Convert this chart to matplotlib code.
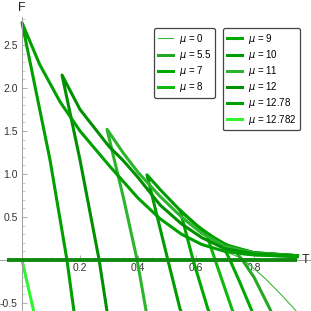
import matplotlib
matplotlib.use("Agg")
from matplotlib import pyplot as plt, ticker
import numpy as np

plt.rcParams['font.family'] = ['Liberation Sans', 'DejaVu Sans']
plt.rcParams['mathtext.fontset'] = 'dejavusans'

# chemical potentials, in legend order
mu_labels = ["0", "5.5", "7", "8", "9", "10", "11", "12", "12.78", "12.782"]

# each curve: upper branch (right end -> cusp) followed by the steep branch
T_mu0 = [0.70, 0.75, 0.79, 0.84, 0.89, 0.934, 0.955]
F_mu0 = [0.10, 0.03, -0.07, -0.22, -0.39, -0.55, -0.63]

T_mu55 = [0.95, 0.80, 0.74, 0.76, 0.80, 0.855, 0.866]
F_mu55 = [0.04, 0.06, 0.08, 0.0, -0.20, -0.57, -0.65]

T_mu7 = [0.95, 0.80, 0.74, 0.695, 0.717, 0.75, 0.79, 0.80]
F_mu7 = [0.045, 0.07, 0.10, 0.15, 0.0, -0.25, -0.57, -0.65]

T_mu8 = [0.95, 0.80, 0.74, 0.68, 0.638, 0.666, 0.724, 0.734]
F_mu8 = [0.05, 0.08, 0.12, 0.19, 0.28, 0.0, -0.57, -0.65]

T_mu9 = [0.95, 0.80, 0.72, 0.66, 0.60, 0.545, 0.59, 0.641, 0.652]
F_mu9 = [0.05, 0.085, 0.15, 0.26, 0.41, 0.58, 0.0, -0.57, -0.65]

T_mu10 = [0.95, 0.80, 0.70, 0.62, 0.55, 0.476, 0.431, 0.503, 0.545, 0.555]
F_mu10 = [0.05, 0.085, 0.18, 0.35, 0.56, 0.82, 0.99, 0.0, -0.57, -0.65]

T_mu11 = [0.95, 0.80, 0.70, 0.62, 0.55, 0.476, 0.40, 0.35, 0.293, 0.35, 0.397, 0.428, 0.433]
F_mu11 = [0.05, 0.08, 0.16, 0.31, 0.50, 0.74, 1.02, 1.24, 1.52, 0.72, 0.0, -0.593, -0.65]

T_mu12 = [0.95, 0.80, 0.70, 0.62, 0.55, 0.476, 0.40, 0.348, 0.30, 0.20, 0.138, 0.20, 0.266, 0.293, 0.30]
F_mu12 = [0.045, 0.07, 0.13, 0.26, 0.42, 0.64, 0.96, 1.16, 1.32, 1.75, 2.15, 1.163, 0.0, -0.593, -0.65]

T_mu1278 = [0.95, 0.80, 0.70, 0.62, 0.55, 0.476, 0.40, 0.30, 0.20, 0.131, 0.06, 0.0, 0.0966, 0.155, 0.179, 0.185]
F_mu1278 = [0.04, 0.06, 0.10, 0.18, 0.30, 0.48, 0.72, 1.10, 1.50, 1.84, 2.28, 2.76, 1.163, 0.0, -0.593, -0.65]

T_mu12782 = [0.0, 0.044]
F_mu12782 = [0.0, -0.65]

# thermal background, F = 0
T_flat = [-0.052, 0.948]
F_flat = [0.0, 0.0]

curves = [
    (T_mu0, F_mu0, "#3cb43c", 0.8),
    (T_mu55, F_mu55, "#22a822", 2.2),
    (T_mu7, F_mu7, "#00aa00", 2.2),
    (T_mu8, F_mu8, "#10b810", 2.2),
    (T_mu9, F_mu9, "#00a800", 2.2),
    (T_mu10, F_mu10, "#009c00", 2.2),
    (T_mu11, F_mu11, "#2cb42c", 2.2),
    (T_mu12, F_mu12, "#009000", 2.2),
    (T_mu1278, F_mu1278, "#00a000", 2.2),
    (T_mu12782, F_mu12782, "#2ef52e", 2.2),
]

fig = plt.figure(figsize=(3.11, 3.11), dpi=100)
ax = fig.add_axes([0, 0, 1, 1])
ax.set_xlim(-0.0759, 0.9966)
ax.set_ylim(-0.593, 3.023)

ax.plot(T_flat, F_flat, color="#0f8a0f", lw=2.8, solid_capstyle='butt', zorder=3)

handles = []
for (T, F, col, lw), lab in zip(curves, mu_labels):
    line, = ax.plot(T, F, color=col, lw=lw, solid_joinstyle='round',
                    label=r"$\mu$ = " + lab, zorder=2)
    handles.append(line)

# Mathematica style axes through the origin
for side in ['top', 'right']:
    ax.spines[side].set_visible(False)
ax.spines['left'].set_position(('data', 0))
ax.spines['bottom'].set_position(('data', 0))
ax.spines['left'].set_bounds(-0.593, 2.83)
for side in ['left', 'bottom']:
    ax.spines[side].set_color('#a0a0a0')
    ax.spines[side].set_linewidth(0.7)

ax.set_xticks([0.2, 0.4, 0.6, 0.8])
ax.set_yticks([-0.5, 0.5, 1.0, 1.5, 2.0, 2.5])
ax.xaxis.set_minor_locator(ticker.MultipleLocator(0.05))
ax.yaxis.set_minor_locator(ticker.FixedLocator(
    [v / 10 for v in range(-5, 29) if v % 5 != 0]))
ax.xaxis.set_major_formatter(ticker.FormatStrFormatter('%.1f'))
ax.yaxis.set_major_formatter(ticker.FormatStrFormatter('%.1f'))
ax.tick_params(axis='both', which='major', direction='in', length=3.5, width=0.6,
               color='#a0a0a0', labelsize=7.5, labelcolor='#333333', pad=2)
ax.tick_params(axis='both', which='minor', direction='in', length=2, width=0.5,
               color='#b0b0b0')
ax.tick_params(axis='y', which='major', pad=3)

ax.text(0.0, 2.93, "F", fontsize=9, ha='center', va='center', color='#222222')
ax.text(0.976, 0.0, "T", fontsize=9, ha='center', va='center', color='#222222')

leg_kw = dict(fontsize=7, handlelength=1.55, handletextpad=0.6, labelspacing=0.22,
              borderpad=0.4, borderaxespad=0, fancybox=True, framealpha=1,
              edgecolor='#444444', loc='upper left', bbox_transform=fig.transFigure)
leg1 = ax.legend(handles=handles[:4], bbox_to_anchor=(0.495, 0.91), **leg_kw)
leg1.get_frame().set_linewidth(0.9)
ax.add_artist(leg1)
leg2 = ax.legend(handles=handles[4:], bbox_to_anchor=(0.717, 0.91), **leg_kw)
leg2.get_frame().set_linewidth(0.9)

fig.savefig("out.png", dpi=100)
